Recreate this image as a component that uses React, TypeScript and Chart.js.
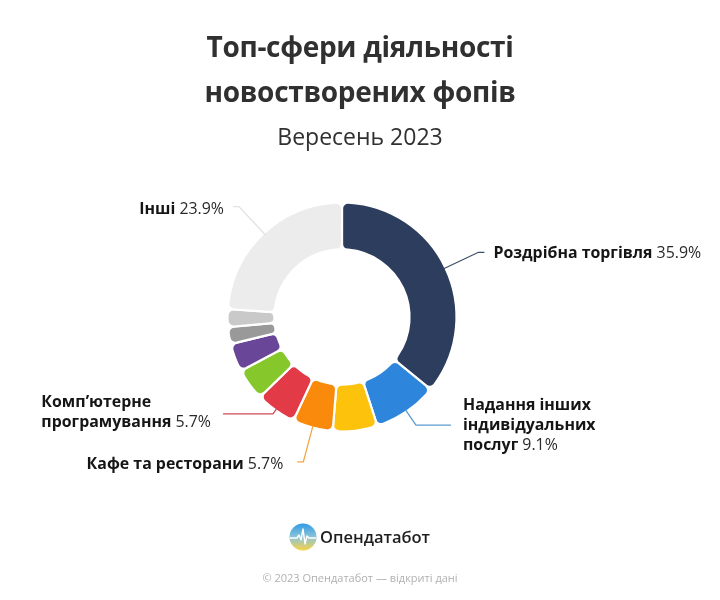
import React, { useEffect, useRef } from "react";
import { Chart, registerables } from "chart.js";

Chart.register(...registerables);

// ---------- data ----------
const categories = [
  "Роздрібна торгівля",
  "Надання інших індивідуальних послуг",
  "Сфера 3",
  "Кафе та ресторани",
  "Комп’ютерне програмування",
  "Сфера 6",
  "Сфера 7",
  "Сфера 8",
  "Сфера 9",
  "Інші",
];
const shares = [35.9, 9.1, 6.3, 5.7, 5.7, 4.5, 4.0, 2.4, 2.5, 23.9];
const sliceColors = [
  "#2c3d5e",
  "#2e86dc",
  "#fdc20b",
  "#f98a0c",
  "#e33a47",
  "#86c72b",
  "#6a4699",
  "#999999",
  "#c9c9c9",
  "#ececec",
];
// label text (bold name lines) for labelled slices
const labelIndex = [0, 1, 3, 4, 9];
const labelNameLines = [
  ["Роздрібна торгівля"],
  ["Надання інших", "індивідуальних", "послуг"],
  ["Кафе та ресторани"],
  ["Комп’ютерне", "програмування"],
  ["Інші"],
];

const titleLines = ["Топ-сфери діяльності", "новостворених фопів"];
const subtitleText = "Вересень 2023";
const brandText = "Опендатабот";
const footerText = "© 2023 Опендатабот — відкриті дані";

// ---------- layout for leader lines ----------
type LabelLayout = {
  elbowR: number;
  hLen: number;
  side: 1 | -1;
  gap: number;
  lineColor: string;
  dy: number;
  anchorLine: number; // which text line is centered on the elbow
};
const labelLayouts: LabelLayout[] = [
  { elbowR: 151, hLen: 6, side: 1, gap: 9, lineColor: "#3d4d6a", dy: 1, anchorLine: 0 },
  { elbowR: 131, hLen: 35, side: 1, gap: 12, lineColor: "#5b9bd0", dy: 0, anchorLine: 1 },
  { elbowR: 150, hLen: 6, side: -1, gap: 14, lineColor: "#f2a446", dy: 3, anchorLine: 0 },
  { elbowR: 119, hLen: 50, side: -1, gap: 12, lineColor: "#cf4a57", dy: -1, anchorLine: 0.5 },
  { elbowR: 151, hLen: 6, side: -1, gap: 9, lineColor: "#e2e2e2", dy: 3, anchorLine: 0 },
];

const FONT = "'Open Sans', 'Noto Sans', sans-serif";
const LABEL_SIZE = 15.9;

const labelPlugin = {
  id: "leaderLabels",
  afterDatasetsDraw(chart: any) {
    const ctx = chart.ctx as CanvasRenderingContext2D;
    const meta = chart.getDatasetMeta(0);
    const ds = chart.data.datasets[0];
    labelIndex.forEach((idx, k) => {
      const arc = meta.data[idx];
      if (!arc) return;
      const { x, y, startAngle, endAngle, outerRadius } = arc.getProps(
        ["x", "y", "startAngle", "endAngle", "outerRadius"],
        true
      );
      const L = labelLayouts[k];
      const mid = (startAngle + endAngle) / 2;
      const r0 = outerRadius - 2;
      const p0x = x + Math.cos(mid) * r0;
      const p0y = y + Math.sin(mid) * r0;
      const p1x = x + Math.cos(mid) * L.elbowR;
      const p1y = y + Math.sin(mid) * L.elbowR;
      const p2x = p1x + L.side * L.hLen;
      ctx.save();
      ctx.strokeStyle = L.lineColor;
      ctx.lineWidth = 1.3;
      ctx.beginPath();
      ctx.moveTo(p0x, p0y);
      ctx.lineTo(p1x, p1y);
      ctx.lineTo(p2x, p1y);
      ctx.stroke();

      // text
      const lines = labelNameLines[k];
      const pct = " " + ds.data[idx].toFixed(1) + "%";
      const boldFont = `700 ${LABEL_SIZE}px ${FONT}`;
      const regFont = `400 ${LABEL_SIZE}px ${FONT}`;
      const lh = 20;
      const widths = lines.map((ln, i) => {
        ctx.font = boldFont;
        let w = ctx.measureText(ln).width;
        if (i === lines.length - 1) {
          ctx.font = regFont;
          w += ctx.measureText(pct).width;
        }
        return w;
      });
      const blockW = Math.max(...widths);
      const anchorX = p2x + L.side * L.gap;
      const leftX = L.side === 1 ? anchorX : anchorX - blockW;
      const firstY = p1y + L.dy - L.anchorLine * lh;
      ctx.textBaseline = "middle";
      ctx.textAlign = "left";
      lines.forEach((ln, i) => {
        const ly = firstY + i * lh;
        ctx.font = boldFont;
        ctx.fillStyle = "#151515";
        ctx.fillText(ln, leftX, ly);
        if (i === lines.length - 1) {
          const w = ctx.measureText(ln).width;
          ctx.font = regFont;
          ctx.fillStyle = "#2a2a2a";
          ctx.fillText(pct, leftX + w, ly);
        }
      });
      ctx.restore();
    });
  },
};

export default function App() {
  const canvasRef = useRef<HTMLCanvasElement | null>(null);

  useEffect(() => {
    const canvas = canvasRef.current;
    if (!canvas) return;
    const chart = new Chart(canvas, {
      type: "doughnut",
      data: {
        labels: categories,
        datasets: [
          {
            data: shares,
            backgroundColor: sliceColors,
            borderColor: "#ffffff",
            borderWidth: 2.2,
            borderRadius: 6,
          },
        ],
      },
      options: {
        responsive: false,
        animation: false,
        devicePixelRatio: 1,
        radius: 114.5,
        cutout: "59%",
        layout: { padding: { left: 192, right: 228, top: 167, bottom: 133 } },
        plugins: {
          legend: { display: false },
          tooltip: { enabled: false },
        },
      } as any,
      plugins: [labelPlugin],
    });
    return () => chart.destroy();
  }, []);

  return (
    <div
      style={{
        position: "absolute",
        left: 0,
        top: 0,
        width: 720,
        height: 600,
        background: "#ffffff",
        fontFamily: FONT,
        overflow: "hidden",
      }}
    >
      <canvas
        ref={canvasRef}
        width={720}
        height={600}
        style={{ position: "absolute", left: 0, top: 0, width: 720, height: 600 }}
      />
      <div
        style={{
          position: "absolute",
          left: 0,
          top: 24,
          width: 720,
          textAlign: "center",
          font: `700 28px ${FONT}`,
          letterSpacing: "-0.3px",
          lineHeight: "45px",
          color: "#303030",
        }}
      >
        {titleLines.map((t) => (
          <div key={t}>{t}</div>
        ))}
      </div>
      <div
        style={{
          position: "absolute",
          left: 0,
          top: 121,
          width: 720,
          textAlign: "center",
          font: `400 23px ${FONT}`,
          lineHeight: "30px",
          color: "#303030",
        }}
      >
        {subtitleText}
      </div>
      <svg
        width={28}
        height={28}
        viewBox="0 0 28 28"
        style={{ position: "absolute", left: 289, top: 523 }}
      >
        <defs>
          <linearGradient id="lg" x1="0" y1="0" x2="0" y2="1">
            <stop offset="0" stopColor="#2f9be6" />
            <stop offset="0.5" stopColor="#8cc4d8" />
            <stop offset="1" stopColor="#f8d247" />
          </linearGradient>
        </defs>
        <circle cx={14} cy={14} r={13.5} fill="url(#lg)" />
        <polyline
          points="1,15 8,15 10,12 12,17 14,6 16,21 18,13 20,15 27,15"
          fill="none"
          stroke="#ffffff"
          strokeWidth={1.4}
          strokeLinejoin="round"
        />
      </svg>
      <div
        style={{
          position: "absolute",
          left: 320,
          top: 524,
          font: `600 16.5px ${FONT}`,
          lineHeight: "26px",
          color: "#1e1e1e",
        }}
      >
        {brandText}
      </div>
      <div
        style={{
          position: "absolute",
          left: 0,
          top: 569,
          width: 720,
          textAlign: "center",
          font: `400 11px ${FONT}`,
          lineHeight: "18px",
          color: "#b0b0b0",
        }}
      >
        {footerText}
      </div>
    </div>
  );
}
